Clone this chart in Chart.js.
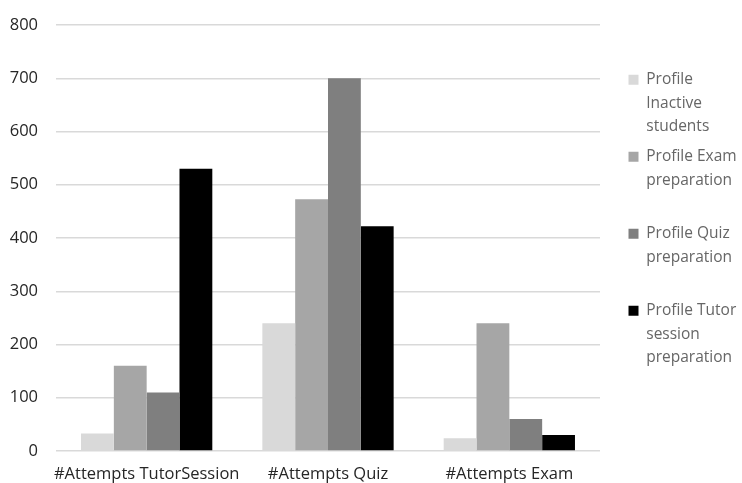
<!DOCTYPE html>
<html>
<head>
<meta charset="utf-8">
<script src="https://cdn.jsdelivr.net/npm/chart.js@4/dist/chart.umd.min.js"></script>
<style>
  html, body { margin: 0; padding: 0; background: #ffffff; }
  #wrap { width: 742px; height: 483px; position: relative; }
</style>
</head>
<body>
<div id="wrap"><canvas id="chart"></canvas></div>
<script>
// Attempt counts per activity type, one series per student profile
const categories = ['#Attempts TutorSession', '#Attempts Quiz', '#Attempts Exam'];
const seriesLabels = [
  ['Profile', 'Inactive', 'students'],
  ['Profile Exam', 'preparation', ''],
  ['Profile Quiz', 'preparation', ''],
  ['Profile Tutor', 'session', 'preparation']
];
const inactiveStudents = [33, 240, 24];
const examPreparation = [160, 473, 240];
const quizPreparation = [110, 700, 60];
const tutorPreparation = [530, 422, 30];
const seriesColors = ['#d9d9d9', '#a6a6a6', '#7f7f7f', '#000000'];
const yMin = 0, yMax = 800, yStep = 100;

const seriesValues = [inactiveStudents, examPreparation, quizPreparation, tutorPreparation];
const FONT = '"Open Sans", Lato, "Liberation Sans", sans-serif';
const TEXT = '#262626';

new Chart(document.getElementById('chart'), {
  type: 'bar',
  data: {
    labels: categories,
    datasets: seriesValues.map((vals, i) => ({
      label: seriesLabels[i],
      data: vals,
      backgroundColor: seriesColors[i],
      borderWidth: 0,
      categoryPercentage: 0.724,
      barPercentage: 1.0
    }))
  },
  options: {
    responsive: true,
    maintainAspectRatio: false,
    animation: false,
    layout: { padding: { top: 25, left: 9, right: 0, bottom: 0 } },
    plugins: {
      tooltip: { enabled: false },
      legend: {
        position: 'right',
        align: 'start',
        maxWidth: 120,
        title: { display: true, text: '', font: { size: 12, lineHeight: 1 }, padding: { top: 28.5, bottom: 0 } },
        labels: {
          boxWidth: 10,
          boxHeight: 10,
          padding: 6.5,
          color: TEXT,
          font: { family: FONT, size: 15.5, weight: 500, lineHeight: 23.5 / 15.5 },
          generateLabels(chart) {
            return chart.data.datasets.map((ds, i) => ({
              text: ds.label,
              fillStyle: ds.backgroundColor,
              strokeStyle: ds.backgroundColor,
              lineWidth: 0,
              hidden: false,
              datasetIndex: i
            }));
          }
        }
      }
    },
    scales: {
      x: {
        grid: { display: false, drawTicks: false },
        border: { display: false },
        ticks: { color: TEXT, font: { family: FONT, size: 16.5, weight: 500 }, padding: 13, maxRotation: 0, autoSkip: false },
        afterFit(scale) {
          scale.height = 32;
          scale.paddingLeft = 0;
          scale.paddingRight = 0;
        }
      },
      y: {
        min: yMin,
        max: yMax,
        grid: { color: '#d9d9d9', lineWidth: 1.5, drawTicks: false },
        border: { display: false },
        ticks: { stepSize: yStep, color: TEXT, font: { family: FONT, size: 16.5, weight: 500 }, padding: 18 },
        afterFit(scale) {
          scale.width = 47;
          scale.paddingTop = 0;
          scale.paddingBottom = 0;
        }
      },
      yGap: {
        type: 'linear',
        position: 'right',
        display: true,
        grid: { display: false, drawTicks: false },
        border: { display: false },
        ticks: { display: false },
        afterFit(scale) { scale.width = 22; }
      }
    }
  }
});
</script>
</body>
</html>
